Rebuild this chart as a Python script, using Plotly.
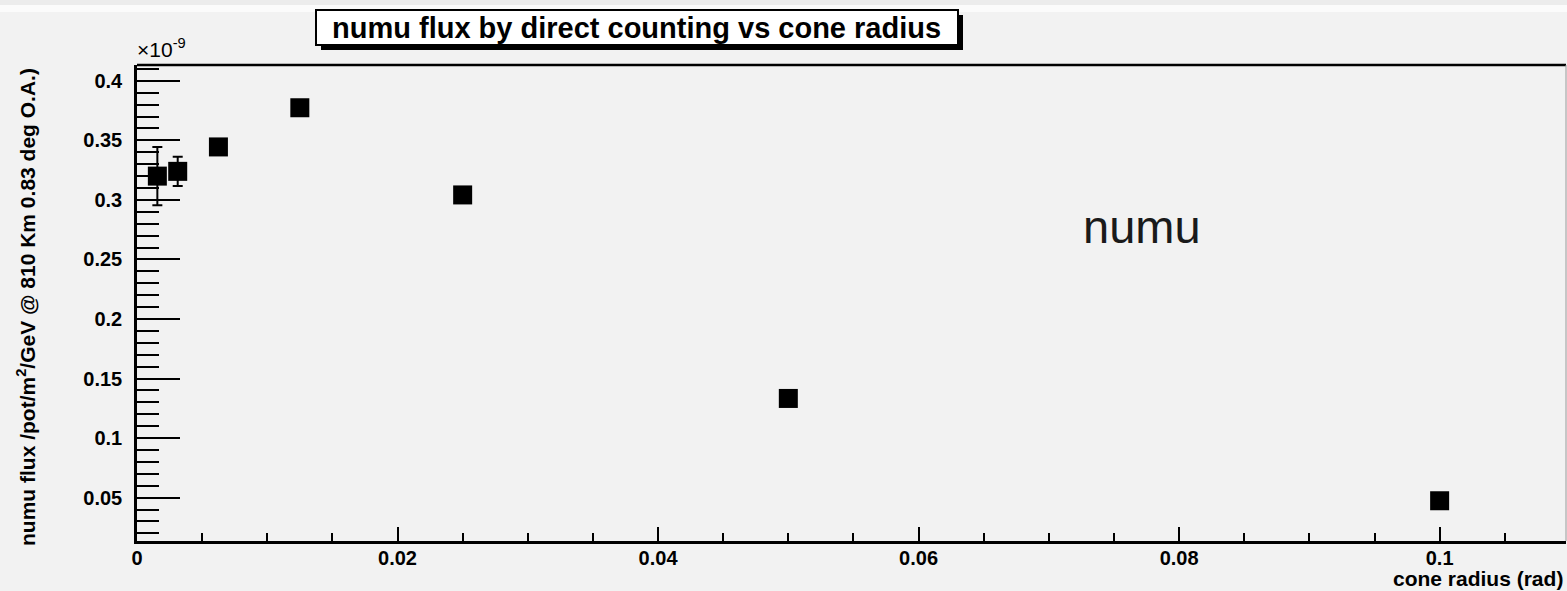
import plotly.graph_objects as go

# Flux measured by direct counting for a series of cone radii (units of 1e-9)
cone_radius = [0.0015625, 0.003125, 0.00625, 0.0125, 0.025, 0.05, 0.1]
numu_flux = [0.320, 0.324, 0.3445, 0.3774, 0.3042, 0.1333, 0.0474]
flux_error = [0.0245, 0.0122, 0.0, 0.0, 0.0, 0.0, 0.0]

W, H = 1567, 591
L, R, T, B = 137, 1, 65, 50
PW, PH = W - L - R, H - T - B


def px(x):
    return (x - L) / PW


def py(y):
    return (H - B - y) / PH


BG = "#f2f2f2"
FONT = "Liberation Sans, Arial, Helvetica, sans-serif"

fig = go.Figure()
fig.add_trace(go.Scatter(
    x=cone_radius, y=numu_flux, mode="markers",
    marker=dict(symbol="square", size=19, color="black", line=dict(width=0)),
    error_y=dict(type="data", array=flux_error, visible=True,
                 color="black", thickness=2, width=5),
    showlegend=False, cliponaxis=False,
))

shapes = [
    # strip at the very top of the canvas
    dict(type="rect", xref="paper", yref="paper", x0=px(0), x1=px(W),
         y0=py(5), y1=py(0), fillcolor="#ececec", line=dict(width=0), layer="below"),
    dict(type="rect", xref="paper", yref="paper", x0=px(0), x1=px(W),
         y0=py(12), y1=py(5), fillcolor="#fbfbfb", line=dict(width=0), layer="below"),
    # frame top / right
    dict(type="line", xref="paper", yref="paper", x0=0, x1=1, y0=1, y1=1,
         line=dict(color="black", width=2.5)),
    dict(type="line", xref="paper", yref="paper", x0=px(1566), x1=px(1566), y0=0, y1=1,
         line=dict(color="#9a9a9a", width=1)),
    # title box with drop shadow
    dict(type="rect", xref="paper", yref="paper", x0=px(321), x1=px(963),
         y0=py(50), y1=py(15), fillcolor="black", line=dict(width=0)),
    dict(type="rect", xref="paper", yref="paper", x0=px(316), x1=px(958),
         y0=py(45), y1=py(10), fillcolor="white", line=dict(color="black", width=2)),
]

annotations = [
    dict(text="numu flux by direct counting vs cone radius", xref="paper", yref="paper",
         x=px(636), y=py(28), xanchor="center", yanchor="middle", showarrow=False,
         font=dict(family=FONT, size=29, color="black", weight="bold")),
    dict(text="×10<sup>-9</sup>", xref="paper", yref="paper",
         x=px(135), y=py(63), xanchor="left", yanchor="bottom", showarrow=False,
         font=dict(family=FONT, size=21, color="black")),
    dict(text="numu flux /pot/m<sup>2</sup>/GeV @ 810 Km 0.83 deg O.A.)",
         xref="paper", yref="paper", x=px(26), y=py(307), textangle=-90,
         xanchor="center", yanchor="middle", showarrow=False,
         font=dict(family=FONT, size=21, color="black", weight="bold")),
    dict(text="cone radius (rad)", xref="paper", yref="paper",
         x=px(1565), y=py(578), xanchor="right", yanchor="middle", showarrow=False,
         font=dict(family=FONT, size=21, color="black", weight="bold")),
    dict(text="numu", xref="paper", yref="paper",
         x=px(1142), y=py(226), xanchor="center", yanchor="middle", showarrow=False,
         font=dict(family=FONT, size=47, color="#1a1a1a")),
]

tick_font = dict(family=FONT, size=20, color="black", weight="bold")

fig.update_layout(
    width=W, height=H,
    margin=dict(l=L, r=R, t=T, b=B, pad=0),
    paper_bgcolor=BG, plot_bgcolor=BG,
    shapes=shapes, annotations=annotations,
    xaxis=dict(
        range=[0, 0.1097], showgrid=False, zeroline=False,
        showline=True, linecolor="black", linewidth=2.5,
        ticks="inside", ticklen=14, tickwidth=2, tickcolor="black",
        tick0=0, dtick=0.02, tickfont=tick_font,
        ticklabelstandoff=-3,
        minor=dict(ticks="inside", dtick=0.005, tick0=0, ticklen=8,
                   tickwidth=2, tickcolor="black", showgrid=False),
    ),
    yaxis=dict(
        range=[0.0136, 0.4133], showgrid=False, zeroline=False,
        showline=True, linecolor="black", linewidth=2.5,
        ticks="inside", ticklen=43, tickwidth=2, tickcolor="black",
        tick0=0, dtick=0.05, tickfont=tick_font,
        ticklabelstandoff=8,
        minor=dict(ticks="inside", dtick=0.01, tick0=0, ticklen=22,
                   tickwidth=2, tickcolor="black", showgrid=False),
    ),
)

fig.write_html("out.html")
